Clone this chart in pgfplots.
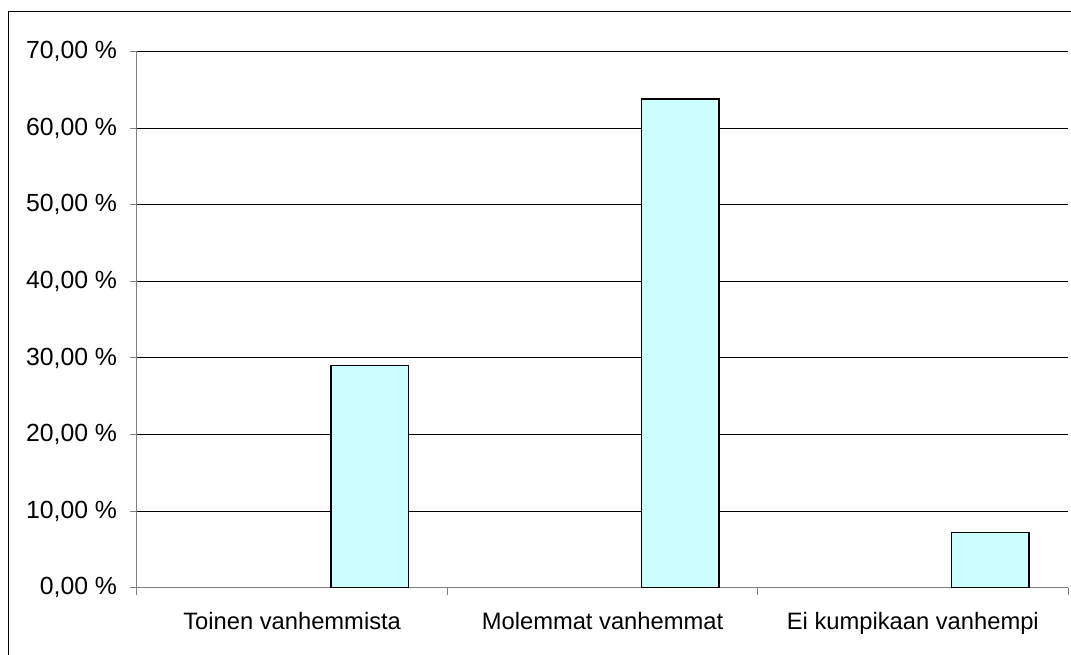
\documentclass[border=0pt]{standalone}
\usepackage{fontspec}
\setmainfont{Liberation Sans}
\usepackage{pgfplots}
\pgfplotsset{compat=1.18}
\definecolor{barfill}{HTML}{CCFFFF}
\definecolor{axgray}{HTML}{808080}
\begin{document}
\fontsize{17.8}{20}\selectfont
\begin{tikzpicture}
\path[use as bounding box] (0,0) rectangle (803.25pt,491.25pt);
\draw[black, line width=0.75pt] (6pt,0) -- (6pt,482.25pt) -- (803.25pt,482.25pt);
\begin{axis}[
  at={(102.75pt,50.5pt)}, anchor=south west,
  scale only axis, width=698.25pt, height=402pt,
  xmin=-0.5, xmax=2.5, ymin=0, ymax=70,
  axis x line=bottom, axis y line=left,
  axis line style={axgray, line width=0.75pt, -},
  xtick={-0.5,0.5,1.5,2.5}, x tick label as interval,
  xticklabels={Toinen vanhemmista, Molemmat vanhemmat, Ei kumpikaan vanhempi},
  ytick={0,10,...,70},
  yticklabel={\pgfmathprintnumber[fixed,fixed zerofill,precision=2,use comma]{\tick}~\%},
  tick align=outside, major tick length=5.25pt,
  tick style={axgray, line width=0.75pt},
  ymajorgrids, grid style={black, line width=0.75pt},
  /pgf/number format/assume math mode=true,
  ticklabel style={font=\fontsize{17.8}{20}\selectfont},
  yticklabel style={inner sep=9.5pt, font=\fontsize{18.6}{20}\selectfont},
  xticklabel style={inner sep=0pt, anchor=base, yshift=-26pt},
]
\addplot[ybar, bar width=0.25, bar shift=0pt, fill=barfill, draw=black, line width=1.1pt]
  coordinates {(0.25,29.0) (1.25,63.8) (2.25,7.2)};
\end{axis}
\end{tikzpicture}
\end{document}
